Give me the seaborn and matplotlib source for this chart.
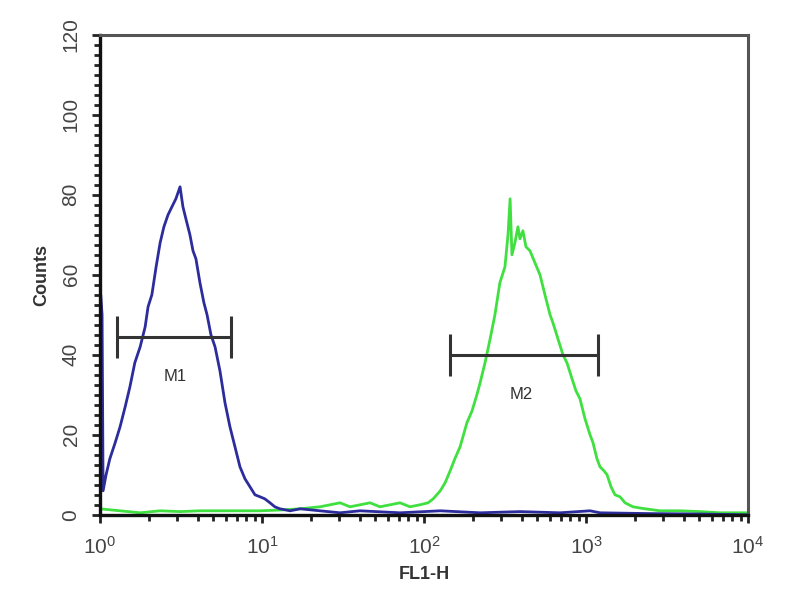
import pandas as pd
import numpy as np
import matplotlib
matplotlib.use("Agg")
import matplotlib.pyplot as plt
import matplotlib.ticker as mticker
import seaborn as sns

# === Histogram data (FL1-H value, counts) ===
blue_fl1 = [1.0, 1.01, 1.03, 1.045, 1.09, 1.15, 1.24, 1.33, 1.43, 1.53, 1.64, 1.77,
            1.90, 1.98, 2.09, 2.22, 2.35, 2.48, 2.63, 2.78, 2.94, 3.12, 3.25, 3.39,
            3.59, 3.75, 3.91, 4.14, 4.38, 4.58, 4.84, 5.13, 5.50, 5.91, 6.34, 6.81,
            7.31, 7.85, 8.43, 9.05, 9.72, 10.4, 11.2, 12.0, 12.9, 14.9, 17.2, 22.8,
            30.3, 40.3, 71.1, 126, 222, 392, 691, 1059, 1220, 2483, 5055, 9950]
blue_counts = [0, 55, 50, 6, 10, 14, 18, 22, 27, 32, 38, 42,
               47, 52, 55, 62, 68, 72, 75, 77, 79, 82, 77, 74,
               70, 66, 64, 58, 53, 50, 45, 42, 36, 28, 22, 17,
               12, 9, 7, 5, 4.5, 4, 3, 2, 1.5, 1, 1.5, 1,
               0.5, 1, 0.5, 1, 0.5, 0.8, 0.5, 1, 0.5, 0.3, 0.2, 0]

green_fl1 = [1.0, 1.33, 1.77, 2.35, 3.12, 4.14, 6.34, 9.72, 12.9, 17.2, 22.8, 26.3,
             30.3, 34.9, 40.3, 46.4, 53.5, 61.7, 71.1, 81.9, 94.4, 106, 114, 126,
             135, 145, 155, 167, 184, 198, 212, 222, 238, 256, 274, 294,
             316, 330, 340, 349, 364, 380, 391, 408, 426, 451, 484, 520,
             558, 600, 625, 671, 721, 763, 820, 867, 918, 986, 1059, 1105,
             1169, 1220, 1291, 1349, 1427, 1510, 1622, 1741, 1950, 2312, 2863, 3802,
             5055, 6714, 10000]
green_counts = [1.5, 1, 0.5, 1, 0.8, 1, 1, 1, 1.2, 1.5, 2, 2.5,
                3, 2, 2.5, 3, 2, 2.5, 3, 2, 2.5, 3, 4, 6,
                8, 11, 14, 17, 23, 26, 30, 33, 38, 44, 50, 58,
                62, 70, 79, 65, 68, 72, 69, 71, 67, 66, 63, 60,
                55, 50, 48, 44, 40, 38, 34, 31, 29, 24, 20, 18,
                14, 12, 11, 10, 7, 5, 4.5, 3, 2, 1.5, 1, 1,
                0.8, 0.5, 0.5]

# === Marker gates ===
marker_names = ["M1", "M2"]
marker_start = [1.27, 145]
marker_end = [6.4, 1180]
marker_level = [44.5, 40]
marker_label_x = [2.9, 400]
marker_label_y = [34.5, 30]

df = pd.concat([
    pd.DataFrame({"FL1-H": green_fl1, "Counts": green_counts, "sample": "green"}),
    pd.DataFrame({"FL1-H": blue_fl1, "Counts": blue_counts, "sample": "blue"}),
])

sns.set_theme(style="ticks")
plt.rcParams["font.family"] = ["Liberation Sans", "DejaVu Sans"]
plt.rcParams["mathtext.default"] = "regular"

fig = plt.figure(figsize=(8, 6), dpi=100)
ax = fig.add_axes([0.125, 0.142, 0.81, 0.8])

sns.lineplot(data=df, x="FL1-H", y="Counts", hue="sample",
             palette={"green": "#3fe03f", "blue": "#2c2c9c"},
             estimator=None, sort=False, linewidth=2, legend=False, ax=ax)

# gate bars
cap = 5.2
ax.hlines(marker_level, marker_start, marker_end, color="#333333", linewidth=2.2)
ax.vlines(marker_start, [m - cap for m in marker_level], [m + cap for m in marker_level],
          color="#333333", linewidth=2.2)
ax.vlines(marker_end, [m - cap for m in marker_level], [m + cap for m in marker_level],
          color="#333333", linewidth=2.2)
for name, lx, ly in zip(marker_names, marker_label_x, marker_label_y):
    ax.text(lx, ly, name, ha="center", va="center", fontsize=12, color="#333333")

ax.set_xscale("log")
ax.set_xlim(1, 10000)
ax.set_ylim(0, 120)
ax.xaxis.set_major_locator(mticker.LogLocator(base=10, numticks=10))
ax.xaxis.set_minor_locator(mticker.LogLocator(base=10, subs=np.arange(2, 10), numticks=20))
ax.xaxis.set_minor_formatter(mticker.NullFormatter())
ax.yaxis.set_major_locator(mticker.MultipleLocator(20))
ax.yaxis.set_minor_locator(mticker.MultipleLocator(2.5))

ax.tick_params(axis="both", which="major", direction="out", length=6, width=2,
               color="#222222", labelsize=15, labelcolor="#444444")
ax.tick_params(axis="x", which="major", pad=9)
ax.tick_params(axis="y", which="major", pad=8)
ax.tick_params(axis="both", which="minor", direction="out", length=4, width=2,
               color="#222222")
ax.tick_params(axis="y", labelrotation=90)
for lbl in ax.get_yticklabels():
    lbl.set_va("center")

for side in ["left", "bottom"]:
    ax.spines[side].set_color("#111111")
    ax.spines[side].set_linewidth(2.4)
for side in ["top", "right"]:
    ax.spines[side].set_visible(True)
    ax.spines[side].set_color("#555555")
    ax.spines[side].set_linewidth(2.2)

ax.set_xlabel("FL1-H", fontsize=13, color="#333333", labelpad=6, fontweight="bold")
ax.set_ylabel("Counts", fontsize=13, color="#333333", labelpad=8, fontweight="bold")

plt.savefig("out.png", dpi=100)
